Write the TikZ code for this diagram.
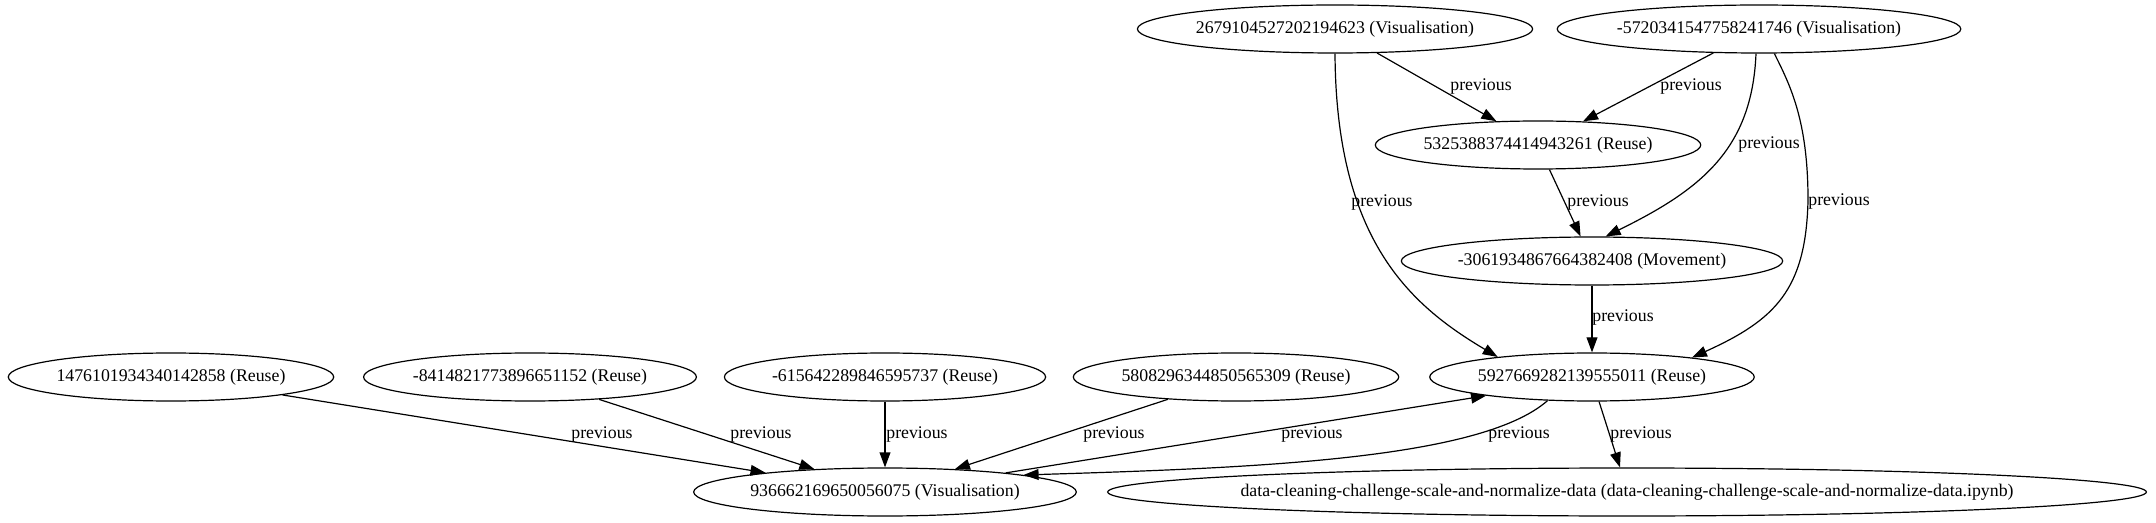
\documentclass[tikz,border=0pt]{standalone}
\usepackage{fontspec}
\setmainfont{Liberation Serif}
\usetikzlibrary{shapes,arrows.meta,positioning}

\begin{document}
\begin{tikzpicture}[
    x=0.5pt, y=-0.5pt,
    font=\fontsize{8.9pt}{10pt}\selectfont,
    cell/.style={ellipse, draw=black, line width=0.6pt, minimum height=24pt, inner xsep=0.3pt, inner ysep=0pt},
    link/.style={-{Triangle[length=7.5pt, width=5.4pt]}, line width=0.6pt},
    tag/.style={inner sep=0pt}
]
\useasboundingbox (0,0) rectangle (2156,523);

% Top rank
\node[cell] (vizA) at (1335, 29) {2679104527202194623 (Visualisation)};
\node[cell] (vizB) at (1759, 29) {-5720341547758241746 (Visualisation)};

% Middle
\node[cell] (reuseC) at (1538, 145) {5325388374414943261 (Reuse)};
\node[cell] (move) at (1592, 261) {-3061934867664382408 (Movement)};

% Reuse row
\node[cell] (reuseF) at (171, 377) {1476101934340142858 (Reuse)};
\node[cell] (reuseG) at (530, 377) {-8414821773896651152 (Reuse)};
\node[cell] (reuseH) at (885, 377) {-615642289846595737 (Reuse)};
\node[cell] (reuseI) at (1236, 377) {5808296344850565309 (Reuse)};
\node[cell] (reuseE) at (1592, 377) {5927669282139555011 (Reuse)};

% Bottom rank
\node[cell] (vizJ) at (885, 492) {936662169650056075 (Visualisation)};
\node[cell, inner xsep=-9.6pt] (notebook) at (1627, 492) {data-cleaning-challenge-scale-and-normalize-data (data-cleaning-challenge-scale-and-normalize-data.ipynb)};

% Edges from the top
\draw[link] (vizA) -- (reuseC) node[tag] at (1481, 87) {previous};
\draw[link] (vizB) -- (reuseC) node[tag] at (1691, 87) {previous};
\draw[link] (reuseC) -- (move) node[tag] at (1598, 203) {previous};
\draw[link] (move) -- (reuseE) node[tag] at (1623, 318) {previous};
\draw[link] (vizA.south) .. controls (1336, 240) and (1410, 305) .. (reuseE.168)
    node[tag] at (1382, 203) {previous};
\draw[link] (vizB.263) .. controls (1752, 150) and (1700, 190) .. (move.61)
    node[tag] at (1769, 145) {previous};
\draw[link] (vizB.302) .. controls (1790, 85) and (1808, 120) .. (1808, 200)
    .. controls (1806, 290) and (1775, 320) .. (reuseE.11)
    node[tag] at (1839, 202) {previous};

% Edges into the visualisation
\draw[link] (reuseF) -- (vizJ) node[tag] at (602, 435) {previous};
\draw[link] (reuseG) -- (vizJ) node[tag] at (761, 435) {previous};
\draw[link] (reuseH) -- (vizJ) node[tag] at (917, 435) {previous};
\draw[link] (reuseI) -- (vizJ) node[tag] at (1114, 435) {previous};
\draw[link] (vizJ.9) -- (reuseE.190) node[tag] at (1312, 435) {previous};
\draw[link] (reuseE.208) .. controls (1480, 460) and (1250, 468) .. (vizJ.7)
    node[tag] at (1519, 435) {previous};
\draw[link] (reuseE.286) -- (notebook.106) node[tag] at (1641, 435) {previous};

\end{tikzpicture}
\end{document}
